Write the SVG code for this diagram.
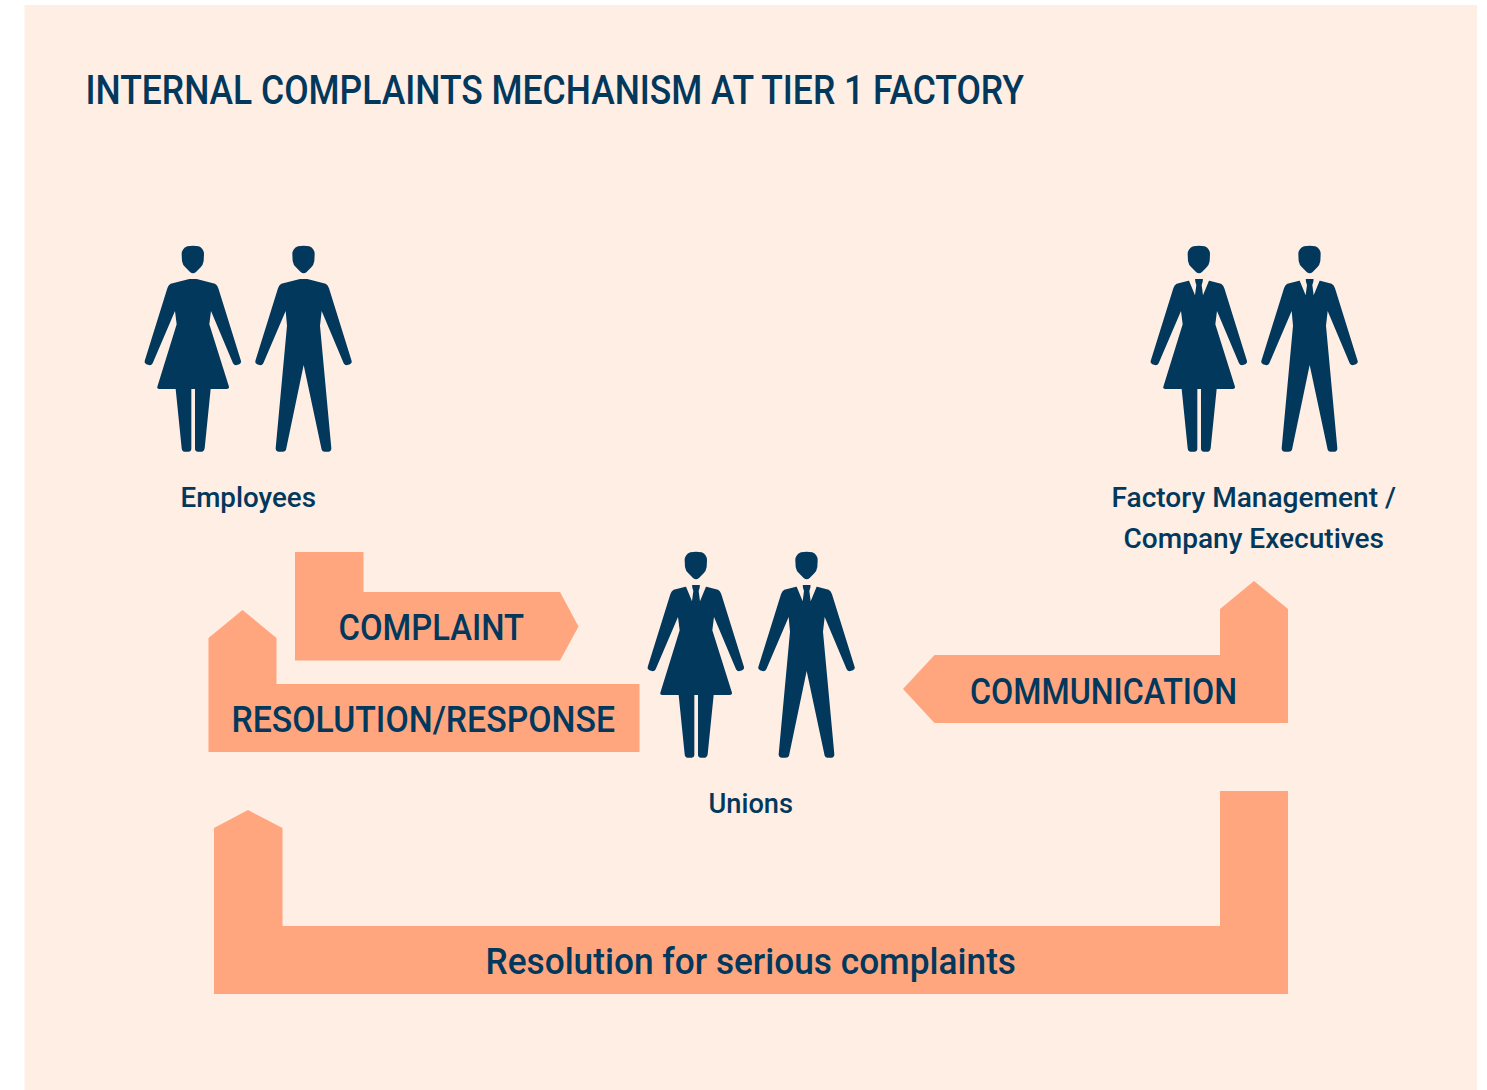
<svg xmlns="http://www.w3.org/2000/svg" xmlns:xlink="http://www.w3.org/1999/xlink" width="1487" height="1090" viewBox="0 0 1487 1090">
<style>
text{font-family:Roboto,"Liberation Sans",sans-serif;fill:#02385c;font-weight:500}
.label{font-size:27px}
.big{font-size:36px}
.arrow{fill:#ffa67f}
.fig{fill:#02385c}
.bg{fill:#feeee4}
</style>
<defs>
<g id="head"><path class="fig" d="M172 34Q189 31 206 34Q222 41 222 58L221 78Q219 90 212 97L198 111Q189 118 180 111L166 97Q158 90 156 78L155 58Q155 41 172 34Z"/></g>
<g id="woman">
<use href="#head"/>
<path class="fig" d="M178 132L200 132L255 146Q262 150 265 160L333 378Q335 384 328 388L318 391Q312 391 309 385L243 228L238 268L297 455Q298 461 290 462L242 462L224 640Q222 650 215 650L204 650Q196 650 195 642L195 462L184 462L184 642Q183 650 175 650L164 650Q156 650 155 640L137 462L88 462Q80 461 82 455L140 268L135 228L68 385Q65 391 59 391L49 388Q42 384 44 378L112 160Q115 150 122 146Z"/>
</g>
<g id="man">
<use href="#head" transform="translate(332 0)"/>
<path class="fig" d="M510 132L532 132L587 146Q594 150 597 160L665 378Q667 384 660 388L650 391Q644 391 641 385L575 228L570 272L604 640Q604 650 595 650L584 650Q577 650 575 644L521 390L468 644Q466 650 458 650L447 650Q437 650 437 640L471 272L467 228L400 385Q397 391 391 391L381 388Q374 384 376 378L444 160Q447 150 454 146Z"/>
</g>
<g id="lapels"><path class="bg" d="M156 130L177 181L181 150L178 140L177 130ZM222 130L201 181L197 150L200 140L201 130Z"/></g>
<g id="pair"><use href="#woman"/><use href="#man"/></g>
<g id="suitpair"><use href="#pair"/><use href="#lapels"/><use href="#lapels" transform="translate(332 0)"/></g>
</defs>
<rect class="bg" x="24.5" y="5" width="1452.5" height="1085"/>
<text id="title" x="85.5" y="104" font-size="40" textLength="938.5" lengthAdjust="spacingAndGlyphs">INTERNAL COMPLAINTS MECHANISM AT TIER 1 FACTORY</text>
<g id="connectors">
<g id="complaint"><path class="arrow" d="M295 552H363.5V592H560L578.5 626.5L560 660.5H295Z"/><text class="big" x="338.5" y="640" textLength="185.5" lengthAdjust="spacingAndGlyphs">COMPLAINT</text></g>
<g id="resolution-response"><path class="arrow" d="M208.5 638L242.5 610L276.5 638V684H639.5V752H208.5Z"/><text class="big" x="231.5" y="732" textLength="383.5" lengthAdjust="spacingAndGlyphs">RESOLUTION/RESPONSE</text></g>
<g id="communication"><path class="arrow" d="M903 689L934.5 655H1220V609L1254 581L1288 609V723H934.5Z"/><text class="big" x="970" y="704" textLength="267" lengthAdjust="spacingAndGlyphs">COMMUNICATION</text></g>
<g id="serious"><path class="arrow" d="M214 828L248 810L282.5 828V926H1220V791H1288V994H214Z"/><text class="big" x="485.5" y="974" textLength="530.5" lengthAdjust="spacingAndGlyphs">Resolution for serious complaints</text></g>
</g>
<g id="employees"><use href="#pair" transform="translate(130 235) scale(.33333)"/><text class="label" x="180.5" y="507" textLength="135.5" lengthAdjust="spacingAndGlyphs">Employees</text></g>
<g id="management"><use href="#suitpair" transform="translate(1136 235) scale(.33333)"/><text class="label" x="1111.5" y="507" textLength="284.5" lengthAdjust="spacingAndGlyphs">Factory Management /</text><text class="label" x="1123.5" y="548" textLength="260.5" lengthAdjust="spacingAndGlyphs">Company Executives</text></g>
<g id="unions"><use href="#suitpair" transform="translate(633 541) scale(.33333)"/><text class="label" x="708.5" y="813" textLength="84.5" lengthAdjust="spacingAndGlyphs">Unions</text></g>
</svg>
